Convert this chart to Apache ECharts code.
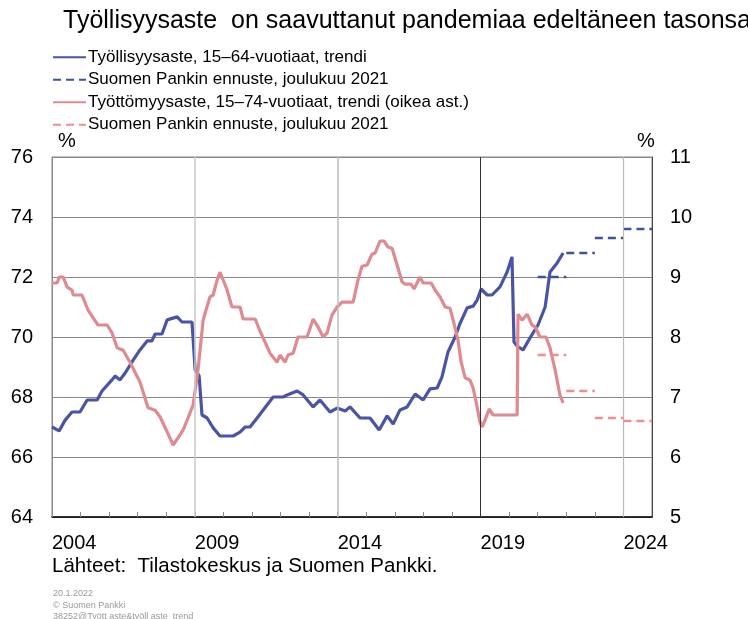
<!DOCTYPE html>
<html>
<head>
<meta charset="utf-8">
<script src="https://cdn.jsdelivr.net/npm/echarts@6/dist/echarts.min.js"></script>
<style>
  html, body { margin: 0; padding: 0; background: #fff; }
  #chart { width: 748px; height: 619px; }
</style>
</head>
<body>
<div id="chart"></div>
<script>
// Työllisyysaste (vasen ast.), trendi
const blueT = [2004.00, 2004.25, 2004.46, 2004.70, 2004.98, 2005.23, 2005.58, 2005.75, 2006.10, 2006.21,
  2006.38, 2006.56, 2006.84, 2007.08, 2007.33, 2007.50, 2007.61, 2007.85, 2008.03, 2008.38,
  2008.55, 2008.90, 2009.01, 2009.15, 2009.25, 2009.43, 2009.64, 2009.88, 2010.34, 2010.58,
  2010.76, 2010.93, 2011.18, 2011.74, 2012.09, 2012.23, 2012.58, 2012.79, 2013.14, 2013.38,
  2013.73, 2013.98, 2014.26, 2014.43, 2014.78, 2015.13, 2015.45, 2015.73, 2015.94, 2016.18,
  2016.43, 2016.71, 2016.99, 2017.23, 2017.48, 2017.65, 2017.86, 2018.11, 2018.28, 2018.53,
  2018.74, 2018.88, 2019.02, 2019.23, 2019.40, 2019.68, 2019.93, 2020.10, 2020.17, 2020.31,
  2020.49, 2020.73, 2021.01, 2021.26, 2021.43, 2021.68, 2021.89];
const blueV = [67.0, 66.87, 67.23, 67.5, 67.5, 67.9, 67.9, 68.2, 68.57, 68.7,
  68.57, 68.8, 69.23, 69.57, 69.87, 69.87, 70.1, 70.1, 70.57, 70.67,
  70.5, 70.5, 68.9, 68.7, 67.4, 67.3, 66.97, 66.7, 66.7, 66.83,
  67.0, 67.0, 67.3, 68.0, 68.0, 68.07, 68.2, 68.07, 67.67, 67.9,
  67.5, 67.63, 67.53, 67.67, 67.3, 67.3, 66.9, 67.37, 67.1, 67.57,
  67.67, 68.1, 67.9, 68.27, 68.3, 68.67, 69.5, 70.0, 70.45, 70.97,
  71.03, 71.23, 71.6, 71.4, 71.4, 71.67, 72.17, 72.67, 69.83, 69.67,
  69.57, 69.97, 70.4, 71.0, 72.17, 72.47, 72.8];

// Työttömyysaste (oikea ast.), trendi
const redT = [2004.00, 2004.18, 2004.25, 2004.39, 2004.53, 2004.70, 2004.74, 2005.05, 2005.26, 2005.44,
  2005.61, 2005.93, 2006.10, 2006.28, 2006.49, 2006.73, 2007.08, 2007.36, 2007.61, 2007.78,
  2008.03, 2008.24, 2008.41, 2008.59, 2008.76, 2008.94, 2009.11, 2009.29, 2009.36, 2009.53,
  2009.64, 2009.78, 2009.88, 2009.99, 2010.13, 2010.30, 2010.58, 2010.69, 2011.11, 2011.28,
  2011.63, 2011.88, 2011.98, 2012.16, 2012.26, 2012.44, 2012.61, 2012.93, 2013.14, 2013.31,
  2013.49, 2013.63, 2013.80, 2013.98, 2014.15, 2014.54, 2014.71, 2014.85, 2015.03, 2015.20,
  2015.31, 2015.48, 2015.62, 2015.76, 2015.90, 2016.08, 2016.25, 2016.36, 2016.57, 2016.67,
  2016.88, 2016.99, 2017.27, 2017.41, 2017.58, 2017.76, 2017.93, 2018.04, 2018.21, 2018.32,
  2018.46, 2018.63, 2018.74, 2018.88, 2018.98, 2019.05, 2019.16, 2019.30, 2019.44, 2020.28,
  2020.31, 2020.45, 2020.63, 2020.80, 2020.91, 2021.08, 2021.29, 2021.43, 2021.61, 2021.78,
  2021.89];
const redV = [8.9, 8.9, 9.0, 9.0, 8.83, 8.78, 8.7, 8.7, 8.45, 8.32,
  8.2, 8.2, 8.07, 7.82, 7.78, 7.58, 7.25, 6.82, 6.78, 6.67,
  6.42, 6.2, 6.32, 6.45, 6.65, 6.87, 7.45, 8.28, 8.4, 8.67,
  8.7, 8.95, 9.08, 8.95, 8.78, 8.5, 8.5, 8.3, 8.3, 8.1,
  7.73, 7.58, 7.7, 7.58, 7.7, 7.73, 8.0, 8.0, 8.3, 8.17,
  8.0, 8.07, 8.37, 8.5, 8.58, 8.58, 8.95, 9.18, 9.2, 9.38,
  9.4, 9.6, 9.6, 9.5, 9.48, 9.2, 8.92, 8.88, 8.88, 8.8,
  9.0, 8.9, 8.9, 8.78, 8.67, 8.5, 8.48, 8.28, 7.95, 7.58,
  7.32, 7.28, 7.15, 6.83, 6.58, 6.5, 6.62, 6.8, 6.7, 6.7,
  8.38, 8.28, 8.38, 8.2, 8.17, 8.0, 8.0, 7.82, 7.45, 7.03,
  6.9];

// Suomen Pankin ennuste, joulukuu 2021 (vuosikeskiarvot)
const forecastYears = [2021, 2022, 2023, 2024];
const blueForecast = [72.0, 72.8, 73.3, 73.6];
const redForecast = [7.7, 7.1, 6.65, 6.6];

const yearTicksLabelled = [2004, 2009, 2014, 2019, 2024];
const legendNames = {
  emp: 'Työllisyysaste, 15–64-vuotiaat, trendi',
  empF: 'Suomen Pankin ennuste, joulukuu 2021',
  unemp: 'Työttömyysaste, 15–74-vuotiaat, trendi (oikea ast.)',
  unempF: 'Suomen Pankin ennuste, joulukuu 2021'
};

const zip = (t, v) => t.map((x, i) => [x, v[i]]);
// vuosittaiset vaakaviivat, erotettu tyhjällä pisteellä
const steps = (vals) => {
  const out = [];
  forecastYears.forEach((y, i) => {
    out.push([y, vals[i]], [y + 1, vals[i]], [y + 1, '-']);
  });
  return out;
};

const BLUE = '#4a54a4';
const BLUE_F = '#3d52a0';
const RED = '#df8a90';
const RED_F = '#f08c92';
const FONT = '"Liberation Sans", Arial, sans-serif';

const chart = echarts.init(document.getElementById('chart'));
chart.setOption({
  animation: false,
  backgroundColor: '#fff',
  title: {
    text: 'Työllisyysaste  on saavuttanut pandemiaa edeltäneen tasonsa',
    left: 63,
    top: 9,
    padding: 0,
    textStyle: { fontFamily: FONT, fontSize: 25, fontWeight: 'normal', color: '#000' }
  },
  legend: {
    orient: 'vertical',
    left: 52,
    top: 46,
    padding: 0,
    itemGap: 0,
    itemWidth: 33,
    itemHeight: 14,
    itemStyle: { opacity: 0 },
    data: ['emp', 'empF', 'unemp', 'unempF'],
    formatter: (n) => legendNames[n],
    textStyle: { fontFamily: FONT, fontSize: 17, color: '#000', lineHeight: 22.5, padding: [0, 0, 0, -3] }
  },
  grid: { left: 52, right: 96, top: 157, bottom: 102, show: true, borderColor: '#888', borderWidth: 1 },
  xAxis: {
    type: 'value',
    min: 2004,
    max: 2025,
    interval: 1,
    axisLine: { show: true, onZero: false, lineStyle: { color: '#000', width: 1.5 } },
    axisTick: { show: true, inside: true, length: 5, lineStyle: { color: '#888' } },
    splitLine: { show: false },
    axisLabel: {
      fontFamily: FONT, fontSize: 20, color: '#000', margin: 16, align: 'left',
      formatter: (v) => (yearTicksLabelled.includes(v) ? String(v) : ''),
      showMaxLabel: false
    }
  },
  yAxis: [
    {
      type: 'value',
      min: 64,
      max: 76,
      interval: 2,
      axisLine: { show: true, lineStyle: { color: '#888' } },
      axisTick: { show: false },
      splitLine: { show: true, lineStyle: { color: '#888', width: 1 } },
      axisLabel: { fontFamily: FONT, fontSize: 20, color: '#000', margin: 19 }
    },
    {
      type: 'value',
      min: 5,
      max: 11,
      interval: 1,
      axisLine: { show: true, lineStyle: { color: '#444' } },
      axisTick: { show: false },
      splitLine: { show: false },
      axisLabel: { fontFamily: FONT, fontSize: 20, color: '#000', margin: 18 }
    }
  ],
  graphic: [
    { type: 'text', left: 58, top: 131, style: { text: '%', font: '20px ' + FONT, fill: '#000' } },
    { type: 'text', left: 637, top: 131, style: { text: '%', font: '20px ' + FONT, fill: '#000' } },
    { type: 'text', left: 52, top: 556, style: { text: 'Lähteet:  Tilastokeskus ja Suomen Pankki.', font: '20.5px ' + FONT, fill: '#000' } },
    { type: 'text', left: 53, top: 589, style: { text: '20.1.2022', font: '9px ' + FONT, fill: '#999' } },
    { type: 'text', left: 53, top: 601, style: { text: '© Suomen Pankki', font: '9px ' + FONT, fill: '#999' } },
    { type: 'text', left: 53, top: 612, style: { text: '38252@Tyött aste&työll aste_trend', font: '9px ' + FONT, fill: '#999' } }
  ],
  series: [
    {
      name: 'emp',
      type: 'line',
      yAxisIndex: 0,
      symbol: 'none',
      lineStyle: { color: BLUE, width: 3.2 },
      itemStyle: { color: BLUE },
      data: zip(blueT, blueV),
      markLine: {
        silent: true,
        symbol: 'none',
        label: { show: false },
        data: [
          { xAxis: 2009, lineStyle: { color: '#c8c8c8', width: 1.5, type: 'solid' } },
          { xAxis: 2014, lineStyle: { color: '#bdbdbd', width: 1.5, type: 'solid' } },
          { xAxis: 2019, lineStyle: { color: '#333', width: 1, type: 'solid' } },
          { xAxis: 2024, lineStyle: { color: '#bbb', width: 1.2, type: 'solid' } }
        ]
      },
      z: 2
    },
    {
      name: 'empF',
      type: 'line',
      yAxisIndex: 0,
      symbol: 'none',
      connectNulls: false,
      lineStyle: { color: BLUE_F, width: 2.6, type: [8, 5] },
      itemStyle: { color: BLUE_F },
      data: steps(blueForecast),
      z: 3
    },
    {
      name: 'unemp',
      type: 'line',
      yAxisIndex: 1,
      symbol: 'none',
      lineStyle: { color: RED, width: 3.2 },
      itemStyle: { color: RED },
      data: zip(redT, redV),
      z: 4
    },
    {
      name: 'unempF',
      type: 'line',
      yAxisIndex: 1,
      symbol: 'none',
      connectNulls: false,
      lineStyle: { color: RED_F, width: 2.6, type: [8, 5] },
      itemStyle: { color: RED_F },
      data: steps(redForecast),
      z: 5
    }
  ]
});
</script>
</body>
</html>
